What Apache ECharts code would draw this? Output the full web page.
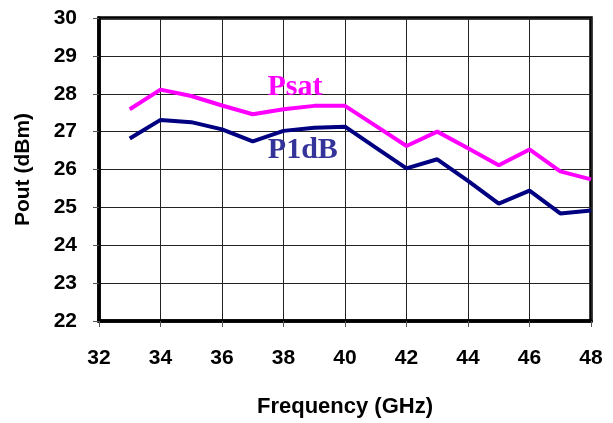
<!DOCTYPE html>
<html>
<head>
<meta charset="utf-8">
<script src="https://cdn.jsdelivr.net/npm/echarts@6/dist/echarts.min.js"></script>
<style>html,body{margin:0;padding:0;background:#fff}#c{width:613px;height:423px}</style>
</head>
<body>
<div id="c"></div>
<script>
const frequency = [33, 34, 35, 36, 37, 38, 39, 40, 41, 42, 43, 44, 45, 46, 47, 48];
const psat = [27.59, 28.11, 27.94, 27.69, 27.46, 27.59, 27.68, 27.68, 27.15, 26.62, 27.0, 26.56, 26.11, 26.53, 25.95, 25.74];
const p1db = [26.82, 27.31, 27.25, 27.06, 26.74, 27.02, 27.10, 27.13, 26.58, 26.03, 26.27, 25.70, 25.10, 25.44, 24.84, 24.92];
const xTicks = [32, 34, 36, 38, 40, 42, 44, 46, 48];
const yTicks = [22, 23, 24, 25, 26, 27, 28, 29, 30];
const labelPsat = {name: 'Psat', at: [38.37, 28.16]};
const labelP1dB = {name: 'P1dB', at: [38.63, 26.51]};

const chart = echarts.init(document.getElementById('c'), null, {renderer: 'canvas'});
const pair = (xs, ys) => xs.map((x, i) => [x, ys[i]]);
const font = '"Liberation Sans", Arial, sans-serif';
const tickFont = {fontFamily: font, fontWeight: 'bold', fontSize: 21, color: '#000'};

function annot(lbl, color) {
  return {
    silent: true,
    symbol: 'circle', symbolSize: 0,
    data: [{coord: lbl.at, value: lbl.name}],
    label: {show: true, position: 'inside', formatter: lbl.name, color: color,
      fontFamily: '"Liberation Serif", "Times New Roman", serif', fontWeight: 'bold', fontSize: 30}
  };
}

chart.setOption({
  animation: false,
  backgroundColor: '#fff',
  grid: {left: 99, right: 22, top: 18, bottom: 100, show: true, borderColor: '#000', borderWidth: 3.5, containLabel: false},
  xAxis: {
    type: 'value', min: xTicks[0], max: xTicks[xTicks.length - 1], interval: 2,
    name: 'Frequency (GHz)', nameLocation: 'middle', nameGap: 75,
    nameTextStyle: {fontFamily: font, fontWeight: 'bold', fontSize: 22, color: '#000'},
    axisLine: {show: true, onZero: false, lineStyle: {color: '#000', width: 3.5}},
    axisTick: {show: true, length: 6, lineStyle: {color: '#555', width: 1}},
    axisLabel: Object.assign({margin: 27}, tickFont),
    splitLine: {show: true, lineStyle: {color: '#222', width: 1}}
  },
  yAxis: {
    type: 'value', min: yTicks[0], max: yTicks[yTicks.length - 1], interval: 1,
    name: 'Pout (dBm)', nameLocation: 'middle', nameGap: 65, nameRotate: 90,
    nameTextStyle: {fontFamily: font, fontWeight: 'bold', fontSize: 21, color: '#000'},
    axisLine: {show: true, onZero: false, lineStyle: {color: '#000', width: 3.5}},
    axisTick: {show: true, length: 6, lineStyle: {color: '#555', width: 1}},
    axisLabel: Object.assign({margin: 22}, tickFont),
    splitLine: {show: true, lineStyle: {color: '#222', width: 1}}
  },
  series: [
    {type: 'line', name: 'Psat', data: pair(frequency, psat), showSymbol: false, symbol: 'none',
      lineStyle: {color: '#FF00FF', width: 4}, itemStyle: {color: '#FF00FF'},
      markPoint: annot(labelPsat, '#FF00FF'), z: 3},
    {type: 'line', name: 'P1dB', data: pair(frequency, p1db), showSymbol: false, symbol: 'none',
      lineStyle: {color: '#000080', width: 4}, itemStyle: {color: '#000080'},
      markPoint: annot(labelP1dB, '#333399'), z: 3}
  ]
});
</script>
</body>
</html>
